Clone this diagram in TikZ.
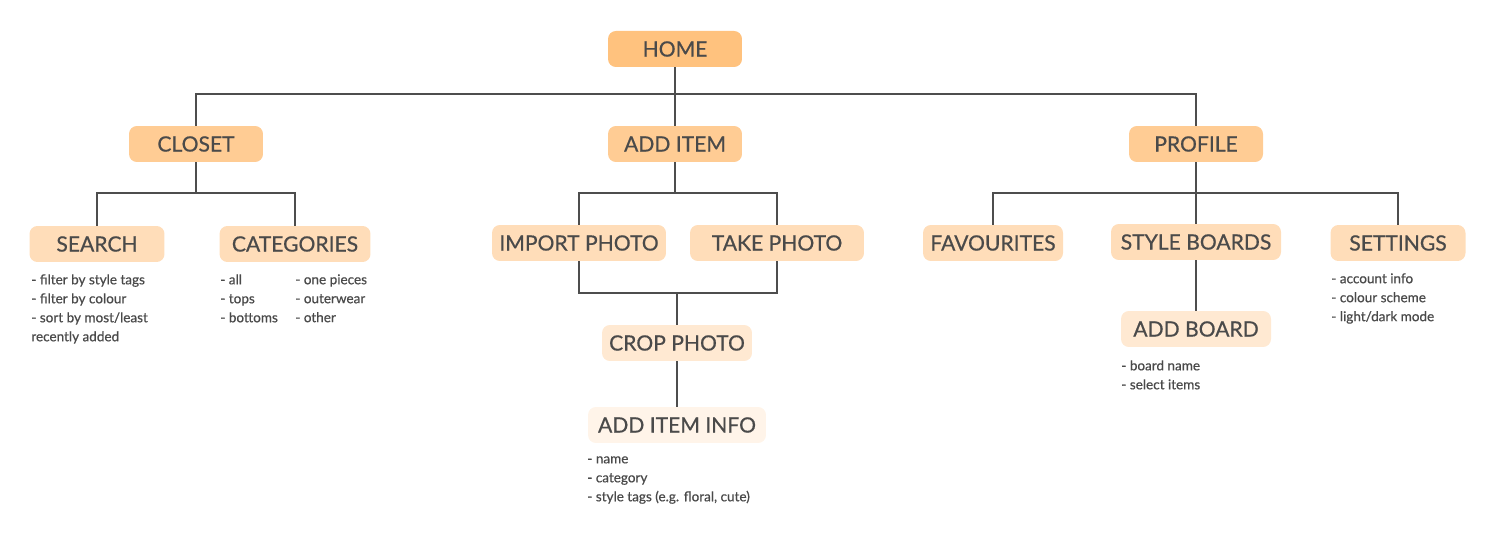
\documentclass[tikz,border=0pt]{standalone}
\usepackage{fontspec}
\setmainfont{Lato}[UprightFeatures={FakeBold=0.6}]
\definecolor{ink}{HTML}{4A4A4A}
\definecolor{wire}{HTML}{4D4D4D}
\definecolor{lvlA}{HTML}{FFC27E}
\definecolor{lvlB}{HTML}{FFCC94}
\definecolor{lvlC}{HTML}{FFDDB9}
\definecolor{lvlD}{HTML}{FFE9D2}
\definecolor{lvlE}{HTML}{FFF4E9}
\tikzset{
  box/.style={rounded corners=4.5pt,minimum height=0.72cm,inner sep=0pt,text=ink,
    font=\fontsize{12}{13}\selectfont},
  notes/.style={anchor=north west,align=left,inner sep=0pt,text=ink,
    font=\fontsize{7.7}{10.8}\selectfont},
  wires/.style={draw=wire,line width=1.1pt}
}
\begin{document}
\begin{tikzpicture}[x=0.02cm,y=-0.02cm]
    \useasboundingbox (0,0) rectangle (1496,540);
    \node[box,fill=lvlA,minimum width=2.68cm] (home) at (675,49) {HOME};
    \node[box,fill=lvlB,minimum width=2.68cm] (closet) at (196,144) {CLOSET};
    \node[box,fill=lvlB,minimum width=2.68cm] (additem) at (675,144) {ADD ITEM};
    \node[box,fill=lvlB,minimum width=2.68cm] (profile) at (1196,144) {PROFILE};
    \node[box,fill=lvlC,minimum width=2.70cm] (search) at (97,244) {SEARCH};
    \node[box,fill=lvlC,minimum width=3.02cm] (categories) at (295,244) {CATEGORIES};
    \node[box,fill=lvlC,minimum width=3.48cm] (import) at (579,243) {IMPORT PHOTO};
    \node[box,fill=lvlC,minimum width=3.48cm] (take) at (777,243) {TAKE PHOTO};
    \node[box,fill=lvlC,minimum width=2.80cm] (favourites) at (993,243) {FAVOURITES};
    \node[box,fill=lvlC,minimum width=3.40cm] (styleb) at (1196,242) {STYLE BOARDS};
    \node[box,fill=lvlC,minimum width=2.70cm] (settings) at (1398,243) {SETTINGS};
    \node[box,fill=lvlD,minimum width=3.00cm] (crop) at (677,343) {CROP PHOTO};
    \node[box,fill=lvlE,minimum width=3.56cm] (info) at (677,425) {ADD ITEM INFO};
    \node[box,fill=lvlD,minimum width=3.00cm] (addboard) at (1196,329) {ADD BOARD};
    \node[notes] (searchnotes) at (31,274) {- filter by style tags\\- filter by colour\\- sort by most/least\\recently added};
    \node[notes] (catnotesa) at (220,274) {- all\\- tops\\- bottoms};
    \node[notes] (catnotesb) at (295,274) {- one pieces\\- outerwear\\- other};
    \node[notes] (infonotes) at (587,456) {- name\\- category\\- style tags (e.g. floral, cute)};
    \node[notes] (boardnotes) at (1121,360) {- board name\\- select items};
    \node[notes] (setnotes) at (1331,273) {- account info\\- colour scheme\\- light/dark mode};
    \coordinate (hj) at (675,94);
    \coordinate (cj) at (196,193);
    \coordinate (aj) at (675,193);
    \coordinate (ij) at (677,293);
    \coordinate (pj) at (1196,193);
    \path[wires] (home) -- (additem)
    (closet) |- (hj) -| (profile)
    (closet) -- (cj)
    (search) |- (cj) -| (categories)
    (additem) -- (aj)
    (import) |- (aj) -| (take)
    (import) |- (ij) -| (take)
    (ij) -- (crop)
    (crop) -- (info)
    (profile) -- (pj)
    (favourites) |- (pj) -| (settings)
    (styleb) -- (pj)
    (styleb) -- (addboard);
  \end{tikzpicture}
\end{document}
